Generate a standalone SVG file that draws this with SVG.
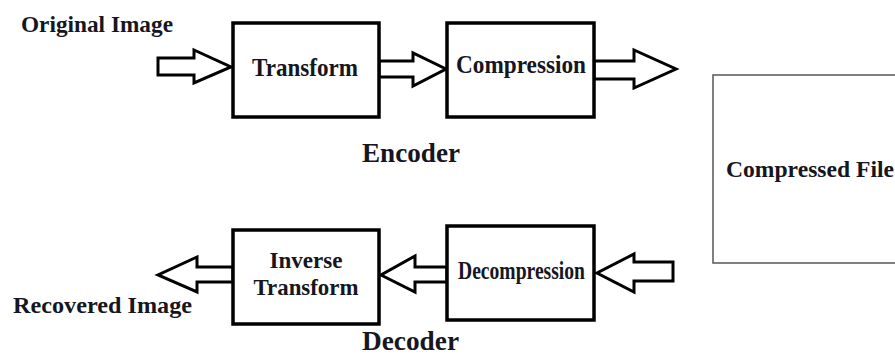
<svg xmlns="http://www.w3.org/2000/svg" width="895" height="363" viewBox="0 0 895 363">
<style>
.bg{fill:#ffffff}
.box{fill:#ffffff;stroke:#000000;stroke-width:3.5}
.file{fill:#ffffff;stroke:#555555;stroke-width:1.5}
.arrow{fill:#ffffff;stroke:#000000;stroke-width:3;stroke-linejoin:miter}
text{font-family:"Liberation Serif","Times New Roman",serif;font-weight:bold;fill:#161620}
</style>
<rect class="bg" x="0" y="0" width="895" height="363"/>
<g id="connectors">
<polygon class="arrow" points="158,58 194,58 194,50 231,67 194,83 194,75 158,75"/>
<polygon class="arrow" points="379,61 413,61 413,53 446,69 413,86 413,77 379,77"/>
<polygon class="arrow" points="594,61 634,61 634,50 676,69 634,88 634,79 594,79"/>
<polygon class="arrow" points="673,262 634,262 634,254 597,273 634,292 634,281 673,281"/>
<polygon class="arrow" points="447,267 415,267 415,256 381,275 415,292 415,282 447,282"/>
<polygon class="arrow" points="233,267 197,267 197,257 158,275 197,292 197,282 233,282"/>
</g>
<g id="original-image-label">
<text x="21" y="32" font-size="23" textLength="152" lengthAdjust="spacingAndGlyphs">Original Image</text>
</g>
<g id="transform">
<rect class="box" x="233" y="23" width="146" height="94"/>
<text x="252" y="76" font-size="26" textLength="106" lengthAdjust="spacingAndGlyphs">Transform</text>
</g>
<g id="compression">
<rect class="box" x="447" y="23" width="147" height="94"/>
<text x="456" y="73" font-size="26" textLength="130" lengthAdjust="spacingAndGlyphs">Compression</text>
</g>
<g id="encoder-label">
<text x="362" y="162" font-size="27" textLength="98" lengthAdjust="spacingAndGlyphs">Encoder</text>
</g>
<g id="compressed-file">
<rect class="file" x="713" y="75" width="200" height="188"/>
<text x="726" y="177" font-size="23" textLength="168" lengthAdjust="spacingAndGlyphs">Compressed File</text>
</g>
<g id="inverse-transform">
<rect class="box" x="233" y="230" width="146" height="94"/>
<text x="306" y="268" font-size="23" text-anchor="middle" textLength="73" lengthAdjust="spacingAndGlyphs">Inverse</text>
<text x="306" y="295" font-size="23" text-anchor="middle" textLength="105" lengthAdjust="spacingAndGlyphs">Transform</text>
</g>
<g id="decompression">
<rect class="box" x="447" y="226" width="147" height="94"/>
<text x="458" y="279" font-size="26" textLength="127" lengthAdjust="spacingAndGlyphs">Decompression</text>
</g>
<g id="recovered-image-label">
<text x="13" y="313" font-size="24" textLength="179" lengthAdjust="spacingAndGlyphs">Recovered Image</text>
</g>
<g id="decoder-label">
<text x="362" y="350" font-size="27" textLength="97" lengthAdjust="spacingAndGlyphs">Decoder</text>
</g>
</svg>
